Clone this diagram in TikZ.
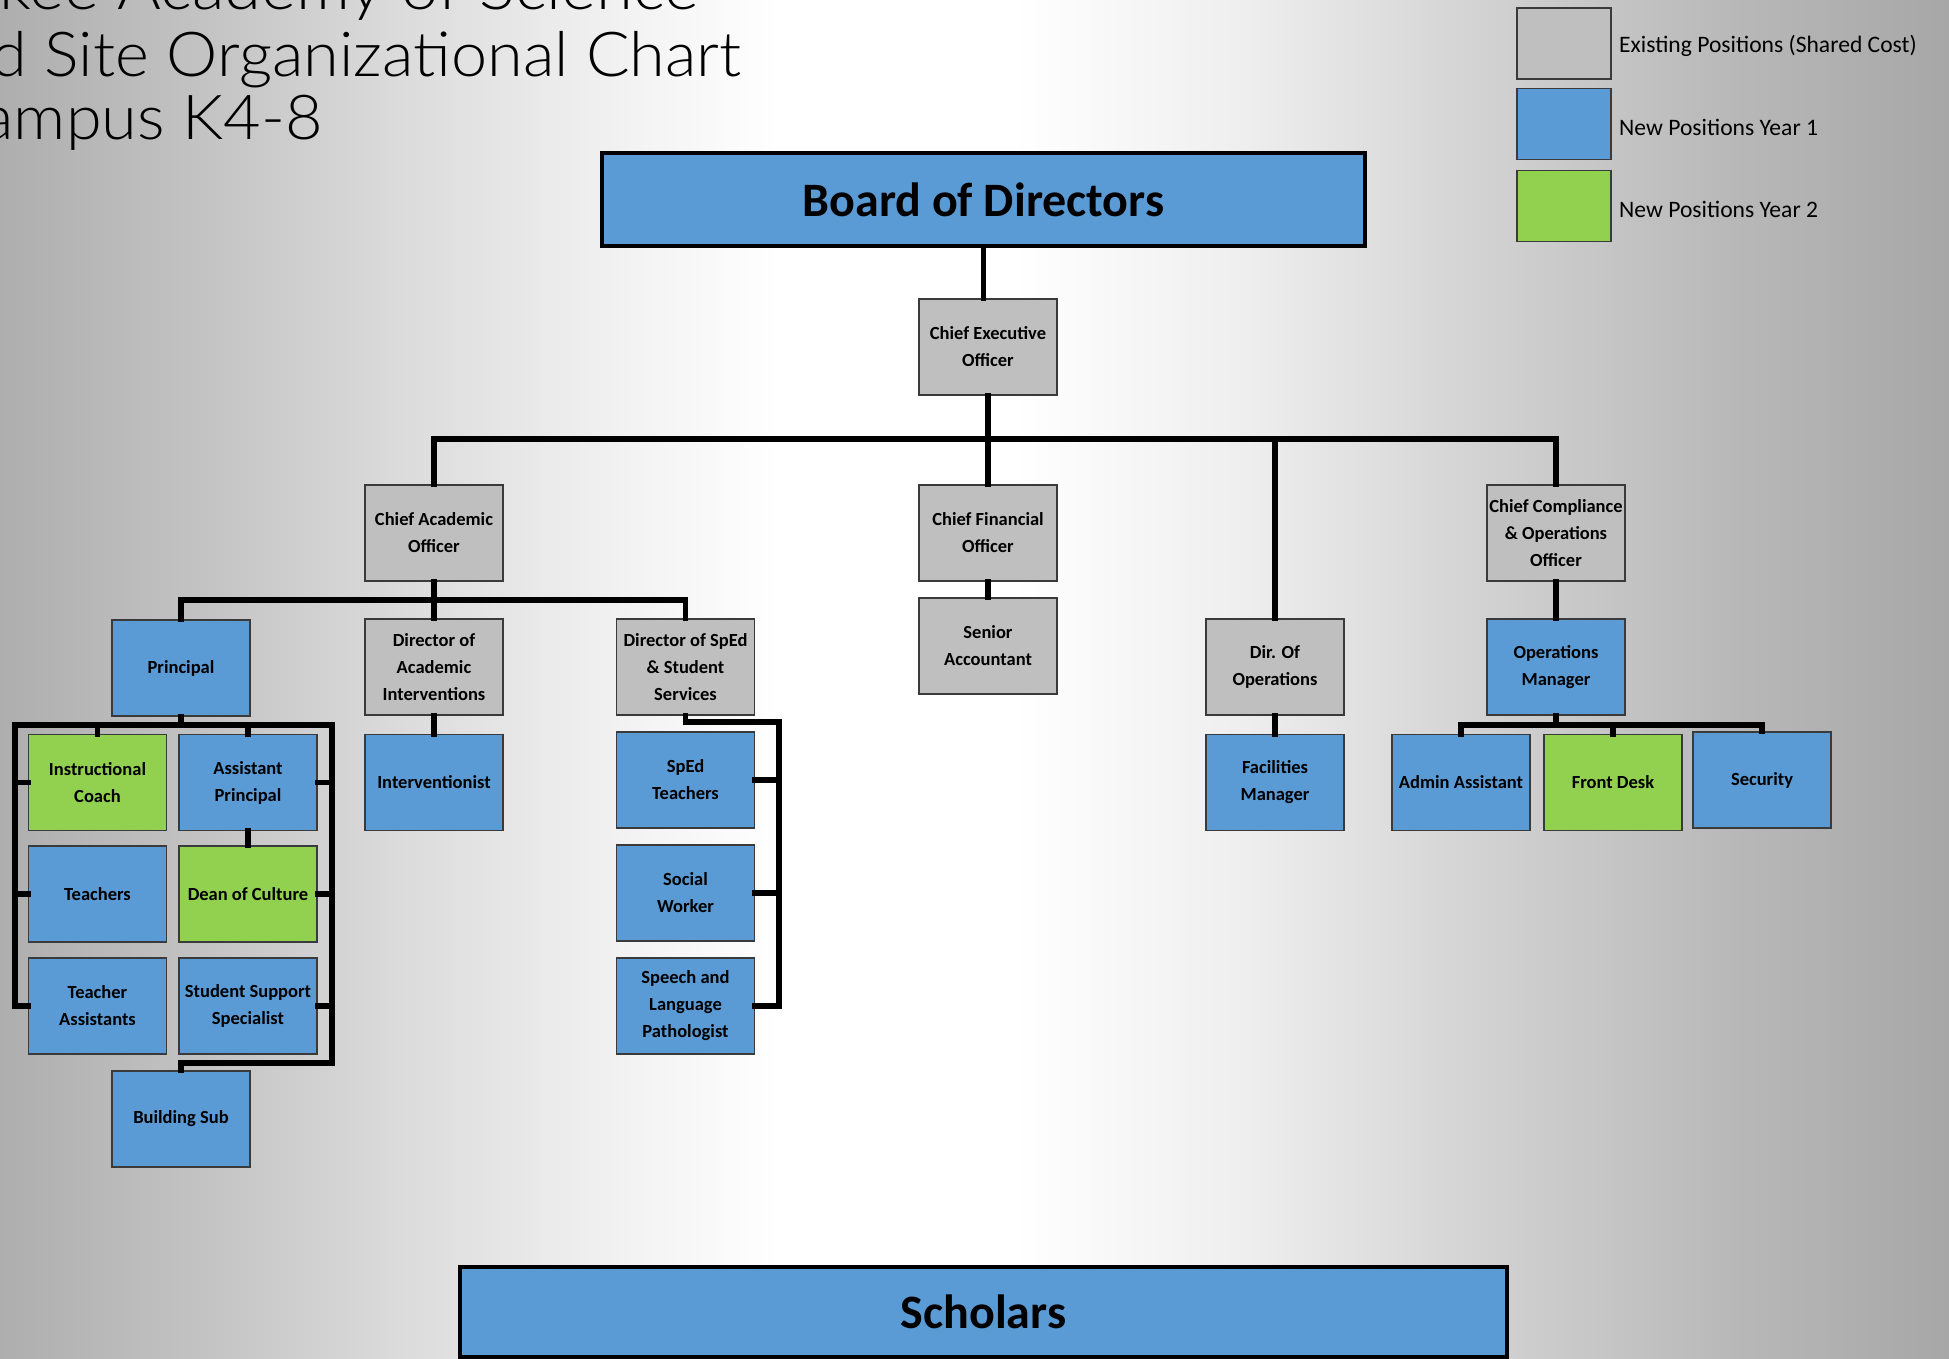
\documentclass[tikz,border=0pt]{standalone}
\usepackage{fontspec}
\setmainfont{Carlito}
\newfontfamily\titlefont{Lato Light}
\usepackage{graphicx}
\definecolor{boxblue}{HTML}{5B9BD5}
\definecolor{boxgreen}{HTML}{92D050}
\definecolor{boxgray}{HTML}{BFBFBF}
\definecolor{boxline}{HTML}{3A3A3A}
\definecolor{bga}{HTML}{AEAEAE}
\definecolor{bgb}{HTML}{C2C2C2}
\definecolor{bgc}{HTML}{DADADA}
\definecolor{bgd}{HTML}{F2F2F2}
\definecolor{bge}{HTML}{EEEEEE}
\definecolor{bgf}{HTML}{D0D0D0}
\definecolor{bgg}{HTML}{B8B8B8}
\definecolor{bgh}{HTML}{A7A7A7}
\pgfdeclarehorizontalshading{bgshade}{100bp}{color(0bp)=(bga); color(25bp)=(bga); color(30bp)=(bgb); color(35bp)=(bgc); color(41bp)=(bgd); color(45bp)=(white); color(51bp)=(white); color(57bp)=(bge); color(63.5bp)=(bgf); color(69.5bp)=(bgg); color(75bp)=(bgh); color(100bp)=(bgh)}
\tikzset{
  posbox/.style={draw=boxline, line width=1.3pt, minimum width=138pt, minimum height=96pt, inner sep=0pt, align=center, font=\fontsize{18.5}{27}\selectfont\bfseries},
  oldpos/.style={posbox, fill=boxgray},
  newone/.style={posbox, fill=boxblue},
  newtwo/.style={posbox, fill=boxgreen},
  bigbox/.style={draw=black, line width=3.5pt, fill=boxblue, inner sep=0pt, font=\fontsize{48}{56}\selectfont\bfseries},
  conn/.style={line width=5.5pt, line join=miter, line cap=rect},
  legbox/.style={draw=boxline, line width=1.3pt, minimum width=94pt, minimum height=71pt, inner sep=0pt},
  legtext/.style={anchor=west, inner sep=0pt, font=\fontsize{23.6}{28}\selectfont},
  titletext/.style={anchor=base east, inner sep=0pt, font=\titlefont\fontsize{62}{70}\selectfont}
}
\begin{document}
\begin{tikzpicture}[x=1pt, y=-1pt]
\clip (0,0) rectangle (1949,1359);
\shade[shading=bgshade] (0,0) rectangle (1949,1359);

% title
\node[titletext] (t1) at (699,10) {\scalebox{1.08}[1]{kee Academy of Science}};
\node[titletext] (t2) at (742,77) {\scalebox{1.045}[1]{d Site Organizational Chart}};
\node[titletext] (t3) at (323,140) {\scalebox{1.045}[1]{ampus K4-8}};

% legend
\node[legbox, fill=boxgray] (lg1) at (1564,43.5) {};
\node[legbox, fill=boxblue] (lg2) at (1564,124) {};
\node[legbox, fill=boxgreen] (lg3) at (1564,206) {};
\node[legtext] (lt1) at (1619,46) {Existing Positions (Shared Cost)};
\node[legtext] (lt2) at (1619,127) {New Positions Year 1};
\node[legtext] (lt3) at (1619,209) {New Positions Year 2};

% big boxes
\node[bigbox, minimum width=763pt, minimum height=93pt] (board) at (983.5,199.5) {Board of Directors};
\node[bigbox, minimum width=1047pt, minimum height=90pt] (scholars) at (983.5,1312) {Scholars};

% positions
\node[oldpos] (ceo) at (988,347) {Chief Executive\\Officer};
\node[oldpos] (cao) at (434,533) {Chief Academic\\Officer};
\node[oldpos] (cfo) at (988,533) {Chief Financial\\Officer};
\node[oldpos] (cco) at (1556,533) {Chief Compliance\\\& Operations\\Officer};
\node[oldpos] (sracc) at (988,646) {Senior\\Accountant};
\node[oldpos] (dirops) at (1275,667) {Dir. Of\\Operations};
\node[newone] (opsmgr) at (1556,667) {Operations\\Manager};
\node[newone] (facmgr) at (1275,782.5) {Facilities\\Manager};
\node[newone] (admin) at (1461,782.5) {Admin Assistant};
\node[newtwo] (front) at (1613,782.5) {Front Desk};
\node[newone] (security) at (1762,780) {Security};

\node[newone] (principal) at (181,668) {Principal};
\node[oldpos] (dai) at (434,667) {Director of\\Academic\\Interventions};
\node[oldpos] (dirsped) at (685.5,667) {Director of SpEd\\\& Student\\Services};
\node[newone] (interv) at (434,782.5) {Interventionist};
\node[newone] (spedt) at (685.5,780) {SpEd\\Teachers};
\node[newone] (social) at (685.5,893) {Social\\Worker};
\node[newone] (speech) at (685.5,1006) {Speech and\\Language\\Pathologist};

\node[newtwo] (ic) at (97.5,782.5) {Instructional\\Coach};
\node[newone] (ap) at (248,782.5) {Assistant\\Principal};
\node[newone] (teach) at (97.5,894) {Teachers};
\node[newtwo] (dean) at (248,894) {Dean of Culture};
\node[newone] (ta) at (97.5,1006) {Teacher\\Assistants};
\node[newone] (sss) at (248,1006) {Student Support\\Specialist};
\node[newone] (bsub) at (181,1119) {Building Sub};

% junction coordinates
\coordinate (mainbar) at (988,439);
\coordinate (cabar) at (434,600);
\coordinate (obar) at (1556,725);
\coordinate (pl) at (15,725);
\coordinate (pr) at (332,725);
\coordinate (pbot) at (332,1063);
\coordinate (sp1) at (779,722);

% connectors
\draw[conn] (board.south) -- (board.south |- ceo.north);
\draw[conn] (ceo.south) -- (cfo.north);
\draw[conn] (cao.north) |- (mainbar) -| (cco.north);
\draw[conn] (dirops.north) -- (dirops.north |- mainbar);
\draw[conn] (cfo.south) -- (sracc.north);
\draw[conn] (dirops.south) -- (facmgr.north);
\draw[conn] (cco.south) -- (opsmgr.north);
\draw[conn] (admin.north) |- (obar) -| (security.north);
\draw[conn] (opsmgr.south) -- (opsmgr.south |- obar);
\draw[conn] (front.north) -- (front.north |- obar);

\draw[conn] (principal.north) |- (cabar) -| (dirsped.north);
\draw[conn] (cao.south) -- (dai.north);
\draw[conn] (dai.south) -- (interv.north);

\draw[conn] (dirsped.south) |- (sp1) |- (speech.east);
\draw[conn] (spedt.east) -- (spedt.east -| sp1);
\draw[conn] (social.east) -- (social.east -| sp1);

\draw[conn] (ta.west) -| (pl) -- (pr) -- (pbot) -| (bsub.north);
\draw[conn] (principal.south) -- (principal.south |- pl);
\draw[conn] (ic.north) -- (ic.north |- pl);
\draw[conn] (ap.north) -- (ap.north |- pl);
\draw[conn] (ic.west) -- (ic.west -| pl);
\draw[conn] (teach.west) -- (teach.west -| pl);
\draw[conn] (ap.east) -- (ap.east -| pr);
\draw[conn] (dean.east) -- (dean.east -| pr);
\draw[conn] (sss.east) -- (sss.east -| pr);
\draw[conn] (ap.south) -- (dean.north);
\end{tikzpicture}
\end{document}
